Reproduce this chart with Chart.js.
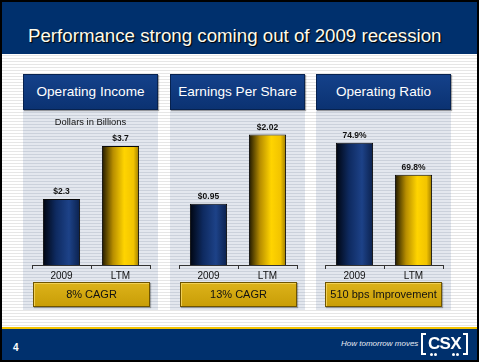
<!DOCTYPE html>
<html>
<head>
<meta charset="utf-8">
<script src="https://cdn.jsdelivr.net/npm/chart.js@4"></script>
<style>
  html, body { margin: 0; padding: 0; background: #fff; }
  body { width: 481px; height: 362px; overflow: hidden; position: relative;
         font-family: "Liberation Sans", Arial, sans-serif; }
  .slide { position: absolute; left: 0; top: 0; width: 479px; height: 362px; box-sizing: border-box;
           border: 2px solid #000;
           background: repeating-linear-gradient(to bottom, #fff 0 2px, #e6e6e6 2px 3px); }
  .top { position: absolute; left: 0; top: 0; right: 0; height: 52px; background: #00306d; }
  .top h1 { position: absolute; left: 26px; top: 23px; margin: 0; font-weight: normal;
            font-size: 18.7px; color: #fffbea; text-shadow: 1px 1px 1px #000; white-space: nowrap; }
  .panel { position: absolute; top: 72px; width: 135px; height: 236px;
           background: repeating-linear-gradient(to bottom, #e3e7ee 0 2px, #cbd1db 2px 3px); }
  .ph { position: absolute; left: 0; top: 0; width: 135px; height: 36px; box-sizing: border-box;
        background: linear-gradient(#14418a, #0b3272); border: 1px solid #07224f;
        box-shadow: 1px 1px 1px rgba(0,0,0,0.35);
        color: #fff; font-size: 13.6px; text-align: center; line-height: 34px; white-space: nowrap; }
  .panel canvas { position: absolute; left: 0; top: 36px; }
  .note { position: absolute; left: 0; width: 135px; top: 42px; text-align: center;
          font-size: 9.4px; color: #111; }
  .box { position: absolute; left: 10px; top: 208px; width: 117px; height: 25px; box-sizing: border-box;
         background: linear-gradient(#dcb21a, #c99e07); border: 1px solid #6e5400;
         box-shadow: inset 1px 1px 0 #f0cf55, 1px 1px 1px rgba(0,0,0,0.3);
         font-size: 11px; color: #111; text-align: center; line-height: 23px; white-space: nowrap; }
  .bottom { position: absolute; left: 0; right: 0; bottom: 0; height: 31px; background: #00306d;
            border-top: 2px solid #f2c200; }
  .pg { position: absolute; left: 11px; top: 13px; color: #fff; font-weight: bold; font-size: 10px; }
  .tag { position: absolute; left: 339px; top: 10px; color: #e8ecf4; font-style: italic; font-size: 8px; white-space: nowrap; }
  .logo { position: absolute; left: 419px; top: 4px; width: 47px; height: 20px; }
  .br { position: absolute; top: 0; width: 3px; height: 18px; border: 2px solid #fff; }
  .br.l { left: 0; border-right: none; }
  .br.r { right: 0; border-left: none; }
  .csx { position: absolute; left: 6px; top: 1px; width: 35px; text-align: center;
         color: #fff; font-weight: bold; font-size: 17px; letter-spacing: -0.6px; }
  .dot { position: absolute; top: 20px; width: 3px; height: 3px; border-radius: 50%; background: #fff; }
</style>
</head>
<body>
<div class="slide">
  <div class="top"><h1>Performance strong coming out of 2009 recession</h1></div>

  <div class="panel" style="left:21px">
    <div class="ph">Operating Income</div>
    <canvas id="c0" width="135" height="172"></canvas>
    <div class="note">Dollars in Billions</div>
    <div class="box">8% CAGR</div>
  </div>
  <div class="panel" style="left:168px">
    <div class="ph">Earnings Per Share</div>
    <canvas id="c1" width="135" height="172"></canvas>
    <div class="box">13% CAGR</div>
  </div>
  <div class="panel" style="left:314px">
    <div class="ph">Operating Ratio</div>
    <canvas id="c2" width="135" height="172"></canvas>
    <div class="box" style="left:9px">510 bps Improvement</div>
  </div>

  <div class="bottom">
    <div class="pg">4</div>
    <div class="tag">How tomorrow moves</div>
    <div class="logo">
      <div class="br l"></div><div class="br r"></div>
      <div class="csx">CSX</div>
      <div class="dot" style="left:9px"></div><div class="dot" style="left:13px"></div>
      <div class="dot" style="left:31px"></div><div class="dot" style="left:35px"></div>
    </div>
  </div>
</div>

<script>
/* ── data ── */
const categories = ['2009', 'LTM'];
const opIncome   = [2.3, 3.7];     // $ billions
const eps        = [0.95, 2.02];   // $ per share
const opRatio    = [74.9, 69.8];   // %

// value axis ranges (baseline is not zero for two of them)
const yMin = [0.56, 0, 55.4];
const yMax = [4.65, 2.40, 80.1];

const BAR_PCT = 0.63;

/* ── bar shading: dark left edge, bright right third ── */
function barFill(ctx) {
  const chart = ctx.chart;
  const x = chart.scales.x;
  const navy = ctx.dataIndex === 0;
  if (!x || x.width === undefined) return navy ? '#0d2d66' : '#f5c800';
  const cx = x.getPixelForValue(ctx.dataIndex);
  const w = x.width / categories.length * BAR_PCT;
  const g = chart.ctx.createLinearGradient(cx - w / 2, 0, cx + w / 2, 0);
  if (navy) {
    g.addColorStop(0, '#000510');
    g.addColorStop(0.35, '#0e2a60');
    g.addColorStop(0.7, '#1d4288');
    g.addColorStop(1, '#0b214d');
  } else {
    g.addColorStop(0, '#1e1700');
    g.addColorStop(0.3, '#b88e00');
    g.addColorStop(0.6, '#ffd400');
    g.addColorStop(0.85, '#f2c400');
    g.addColorStop(1, '#9c7a00');
  }
  return g;
}

/* ── value labels above bars ── */
const valueLabels = {
  id: 'valueLabels',
  afterDatasetsDraw(chart, args, opts) {
    const c = chart.ctx;
    const meta = chart.getDatasetMeta(0);
    c.save();
    c.font = 'bold 8.5px "Liberation Sans", Arial, sans-serif';
    c.fillStyle = '#111';
    c.textAlign = 'center';
    c.textBaseline = 'middle';
    meta.data.forEach((bar, i) => {
      c.fillText(opts.fmt(chart.data.datasets[0].data[i]), bar.x, bar.y - 7);
    });
    c.restore();
  }
};

function makeChart(id, values, i, fmt) {
  return new Chart(document.getElementById(id), {
    type: 'bar',
    data: {
      labels: categories,
      datasets: [{
        data: values,
        backgroundColor: barFill,
        borderColor: '#0a0a0a',
        borderWidth: 1,
        borderSkipped: 'bottom',
        barPercentage: BAR_PCT,
        categoryPercentage: 1
      }]
    },
    options: {
      responsive: false,
      animation: false,
      layout: { padding: { left: 9, right: 8, top: 0, bottom: 0 } },
      plugins: {
        legend: { display: false },
        tooltip: { enabled: false },
        valueLabels: { fmt }
      },
      scales: {
        x: {
          afterFit: s => { s.height = 17; },
          grid: { drawOnChartArea: false, drawTicks: true, tickLength: 4, color: '#333', offset: true },
          border: { display: true, color: '#333', width: 1 },
          ticks: { color: '#111', padding: 1, font: { family: '"Liberation Sans", Arial, sans-serif', size: 10 } }
        },
        y: { display: false, min: yMin[i], max: yMax[i] }
      }
    },
    plugins: [valueLabels]
  });
}

makeChart('c0', opIncome, 0, v => '$' + v.toFixed(1));
makeChart('c1', eps,      1, v => '$' + v.toFixed(2));
makeChart('c2', opRatio,  2, v => v.toFixed(1) + '%');
</script>
</body>
</html>
